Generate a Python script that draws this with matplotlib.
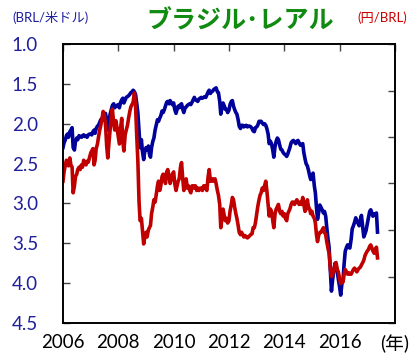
import matplotlib
matplotlib.use("Agg")
import matplotlib.pyplot as plt
import pandas as pd

# Semi-monthly observations (1st and 15th of each month), Jan 2006 - May 2017
usd_brl = {
    2006: [2.30, 2.24, 2.20, 2.15, 2.13, 2.17, 2.10, 2.08, 2.05, 2.30, 2.33, 2.22,
           2.18, 2.20, 2.15, 2.16, 2.17, 2.15, 2.14, 2.16, 2.15, 2.17, 2.14, 2.13],
    2007: [2.13, 2.14, 2.10, 2.08, 2.12, 2.06, 2.03, 2.02, 1.98, 1.95, 1.93, 1.91,
           1.88, 1.87, 1.95, 2.08, 1.96, 1.88, 1.82, 1.77, 1.75, 1.80, 1.78, 1.77],
    2008: [1.76, 1.80, 1.73, 1.70, 1.68, 1.74, 1.70, 1.67, 1.66, 1.65, 1.63, 1.61,
           1.60, 1.58, 1.60, 1.63, 1.75, 1.86, 2.10, 2.30, 2.20, 2.35, 2.45, 2.35],
    2009: [2.30, 2.33, 2.28, 2.38, 2.42, 2.30, 2.22, 2.18, 2.08, 2.02, 1.95, 1.97,
           1.93, 1.90, 1.84, 1.86, 1.82, 1.78, 1.73, 1.72, 1.75, 1.71, 1.74, 1.76],
    2010: [1.74, 1.82, 1.87, 1.82, 1.78, 1.80, 1.76, 1.75, 1.82, 1.86, 1.80, 1.79,
           1.77, 1.76, 1.75, 1.76, 1.73, 1.70, 1.67, 1.70, 1.71, 1.72, 1.69, 1.68],
    2011: [1.67, 1.68, 1.67, 1.66, 1.67, 1.64, 1.60, 1.58, 1.62, 1.60, 1.59, 1.57,
           1.56, 1.55, 1.60, 1.61, 1.72, 1.88, 1.80, 1.74, 1.78, 1.82, 1.82, 1.86],
    2012: [1.83, 1.76, 1.72, 1.71, 1.78, 1.82, 1.86, 1.88, 1.95, 2.03, 2.06, 2.02,
           2.02, 2.04, 2.03, 2.02, 2.04, 2.03, 2.03, 2.04, 2.06, 2.09, 2.10, 2.05],
    2013: [2.04, 2.02, 1.97, 1.97, 1.97, 1.99, 2.01, 2.00, 2.02, 2.06, 2.13, 2.25,
           2.22, 2.25, 2.33, 2.42, 2.28, 2.22, 2.18, 2.20, 2.27, 2.32, 2.33, 2.36],
    2014: [2.38, 2.39, 2.41, 2.38, 2.34, 2.30, 2.24, 2.22, 2.21, 2.23, 2.25, 2.22,
           2.21, 2.24, 2.27, 2.26, 2.25, 2.36, 2.44, 2.50, 2.53, 2.58, 2.65, 2.70],
    2015: [2.66, 2.62, 2.78, 2.87, 3.05, 3.20, 3.10, 3.02, 3.05, 3.08, 3.12, 3.10,
           3.16, 3.30, 3.45, 3.55, 3.85, 4.10, 3.95, 3.85, 3.75, 3.78, 3.85, 3.95],
    2016: [4.05, 4.15, 4.00, 3.95, 3.75, 3.60, 3.55, 3.52, 3.55, 3.56, 3.45, 3.32,
           3.28, 3.24, 3.18, 3.22, 3.25, 3.28, 3.20, 3.15, 3.30, 3.42, 3.38, 3.34],
    2017: [3.25, 3.18, 3.10, 3.08, 3.12, 3.16, 3.13, 3.15, 3.12, 3.36],
}

jpy_brl = {
    2006: [50.5, 52.5, 54.0, 55.0, 54.5, 53.8, 55.5, 54.0, 53.5, 48.0, 49.5, 51.5,
           52.0, 53.0, 53.5, 53.0, 54.0, 53.5, 55.0, 54.5, 54.0, 54.8, 54.6, 55.5],
    2007: [56.5, 57.0, 57.5, 54.0, 55.0, 57.5, 58.5, 60.0, 61.5, 62.5, 64.0, 65.5,
           64.5, 63.0, 58.0, 55.5, 59.0, 61.5, 64.5, 66.0, 63.0, 61.5, 63.5, 62.0],
    2008: [60.0, 58.5, 62.0, 64.0, 59.0, 57.0, 60.5, 61.5, 62.5, 64.0, 65.5, 66.5,
           67.0, 67.5, 69.5, 67.0, 60.0, 55.0, 46.0, 42.0, 42.5, 40.0, 37.0, 38.5],
    2009: [39.5, 38.5, 40.0, 40.5, 41.0, 43.5, 45.0, 46.5, 46.0, 47.5, 49.5, 50.5,
           48.5, 49.5, 51.5, 52.0, 51.0, 50.0, 52.5, 53.0, 51.5, 50.0, 51.0, 52.0],
    2010: [52.5, 50.0, 48.5, 49.5, 50.5, 51.0, 53.5, 54.5, 51.0, 48.5, 50.5, 51.0,
           49.0, 49.5, 48.5, 48.0, 49.5, 49.5, 49.0, 49.5, 48.5, 49.0, 48.5, 49.0],
    2011: [49.0, 48.5, 49.5, 49.5, 49.0, 48.5, 51.5, 53.0, 50.5, 50.5, 51.0, 50.5,
           51.0, 50.0, 48.5, 47.5, 45.5, 40.5, 42.5, 44.5, 43.0, 42.0, 42.5, 41.5],
    2012: [42.0, 44.0, 45.5, 47.0, 46.5, 45.0, 43.5, 42.5, 41.0, 39.5, 39.0, 39.5,
           39.0, 38.5, 38.8, 38.5, 38.3, 38.5, 38.8, 39.0, 39.2, 40.5, 40.5, 41.5],
    2013: [43.5, 45.0, 46.5, 47.5, 48.0, 49.0, 48.5, 49.5, 50.5, 48.5, 45.5, 43.0,
           44.5, 44.0, 42.0, 40.5, 43.5, 44.5, 45.0, 45.5, 44.0, 43.5, 44.0, 43.0],
    2014: [43.5, 42.5, 42.0, 43.5, 44.0, 44.5, 45.5, 46.0, 46.0, 45.5, 46.0, 46.5,
           46.0, 45.5, 46.0, 45.5, 47.0, 45.5, 44.0, 44.5, 46.5, 45.0, 44.5, 43.5],
    2015: [44.0, 43.0, 42.5, 41.5, 39.0, 37.5, 39.0, 39.5, 39.5, 40.0, 40.5, 39.5,
           39.0, 37.5, 36.0, 35.0, 31.5, 30.0, 30.5, 31.5, 32.5, 33.0, 31.5, 31.0],
    2016: [29.5, 28.5, 29.0, 28.8, 30.5, 31.5, 31.0, 30.5, 30.8, 30.5, 30.5, 31.0,
           31.5, 31.8, 31.5, 31.0, 31.5, 31.8, 32.0, 32.5, 33.0, 33.5, 34.5, 35.0],
    2017: [35.5, 35.8, 36.5, 36.8, 36.2, 35.5, 35.0, 35.8, 36.3, 34.0],
}

year_labels = ["2006", "2008", "2010", "2012", "2014", "2016", "(年)"]
left_ticks = [1.0, 1.5, 2.0, 2.5, 3.0, 3.5, 4.0, 4.5]
right_ticks = [20, 30, 40, 50, 60, 70, 80]

usd_series = [v for y in sorted(usd_brl) for v in usd_brl[y]]
jpy_series = [v for y in sorted(jpy_brl) for v in jpy_brl[y]]
dates = pd.date_range("2006-01-01", "2017-05-15", freq="SMS")

BLUE_LINE = "#00009a"
RED_LINE = "#c00000"
BLUE_TEXT = "#1f1f9c"
RED_TEXT = "#cc0000"
GREEN = "#118a11"

plt.rcParams["font.family"] = ["Lato", "Noto Sans CJK JP", "DejaVu Sans"]

fig = plt.figure(figsize=(4.09, 3.58), dpi=100)
ax = fig.add_axes([63 / 409, 35 / 358, 332 / 409, 279 / 358])
ax2 = ax.twinx()

ax.plot(dates, usd_series, color=BLUE_LINE, lw=2.6, solid_joinstyle="round")
ax2.plot(dates, jpy_series, color=RED_LINE, lw=2.6, solid_joinstyle="round")

# Left axis: BRL per USD, inverted
ax.set_ylim(4.5, 1.0)
ax.set_yticks(left_ticks)
ax.set_yticklabels([f"{t:.1f}" for t in left_ticks])
ax.tick_params(axis="y", direction="in", length=5, width=1.0, color="#444444",
               pad=18, labelsize=13.5, labelcolor=BLUE_TEXT)

# Right axis: JPY per BRL, no labels
ax2.set_ylim(20, 80)
ax2.set_yticks(right_ticks)
ax2.tick_params(axis="y", direction="in", length=5, width=1.0, color="#444444",
                labelright=False)

# X axis: ticks on the top spine, labels below
xt = [pd.Timestamp(f"{y}-01-01") for y in range(2006, 2019, 2)]
ax.set_xlim(pd.Timestamp("2006-01-01"), pd.Timestamp("2018-01-01"))
ax.set_xticks(xt)
ax.set_xticklabels(year_labels)
ax.tick_params(axis="x", direction="in", bottom=False, top=True, length=5,
               width=1.0, color="#444444", pad=8, labelsize=13.5,
               labelcolor="black")

for a in (ax, ax2):
    for s in a.spines.values():
        s.set_linewidth(1.2)
        s.set_color("black")

fig.text(240 / 409, 1 - 22 / 358, "ブラジル･レアル", ha="center", va="center",
         fontsize=18, fontweight="bold", color=GREEN,
         family=["Noto Sans CJK JP"])
fig.text(12 / 409, 1 - 18 / 358, "(BRL/米ドル)", ha="left", va="center",
         fontsize=9.5, color=BLUE_TEXT)
fig.text(407 / 409, 1 - 18 / 358, "(円/BRL)", ha="right", va="center",
         fontsize=9.5, color=RED_TEXT)

fig.savefig("out.png", dpi=100)
